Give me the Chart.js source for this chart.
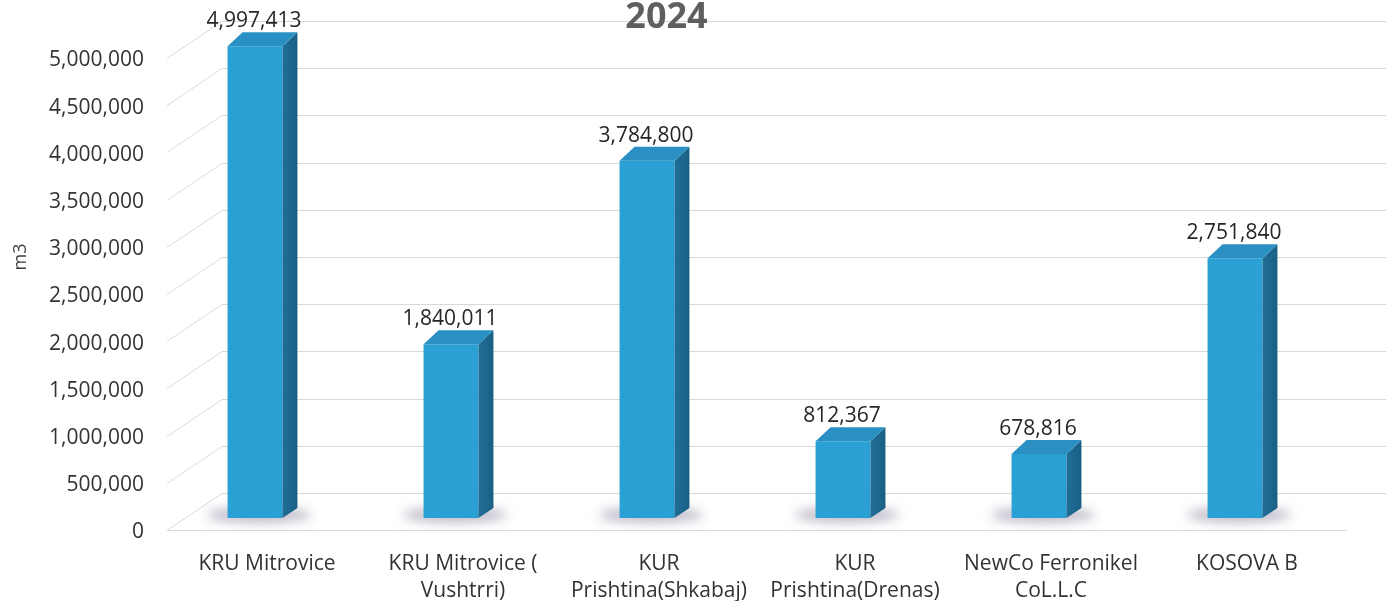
<!DOCTYPE html>
<html>
<head>
<meta charset="utf-8">
<script src="https://cdn.jsdelivr.net/npm/chart.js@4/dist/chart.umd.min.js"></script>
<style>
  html, body { margin: 0; padding: 0; background: #ffffff; }
  #wrap { width: 1386px; height: 601px; position: relative; }
</style>
</head>
<body>
<div id="wrap"><canvas id="c" width="1386" height="601"></canvas></div>
<script>
// ---- data ----
const categories = [
  'KRU Mitrovice',
  ['KRU Mitrovice (', 'Vushtrri)'],
  ['KUR', 'Prishtina(Shkabaj)'],
  ['KUR', 'Prishtina(Drenas)'],
  ['NewCo Ferronikel', 'CoL.L.C'],
  'KOSOVA B'
];
const values = [4997413, 1840011, 3784800, 812367, 678816, 2751840];
const yMin = 0;
const yMax = 5000000;
const yStep = 500000;
const chartTitle = '2024';
const yAxisTitle = 'm3';

const FONT = "'Open Sans', 'Noto Sans', sans-serif";
const fmt = v => Number(v).toLocaleString('en-US');

// pseudo-3D geometry (offsets relative to the library's scale pixels)
const G = { frontDx: 10, frontDy: 12, backDx: 55, backDy: -25, barDx: 15, barDy: -14, floorRight: 14 };

const plot3d = {
  id: 'plot3d',
  beforeDraw(chart) {
    const { ctx, chartArea: a, scales: { y } } = chart;
    ctx.save();
    ctx.strokeStyle = '#d9d9d9';
    ctx.lineWidth = 1;
    const x0 = a.left + G.frontDx;
    const x1 = x0 + G.backDx;
    y.ticks.forEach(t => {
      const py = Math.round(y.getPixelForValue(t.value)) + 0.5;
      ctx.beginPath();
      ctx.moveTo(x0, py + G.frontDy);
      ctx.lineTo(x1, py + G.backDy);
      ctx.lineTo(chart.width, py + G.backDy);
      ctx.stroke();
    });
    // floor front edge
    const p0 = Math.round(y.getPixelForValue(0)) + 0.5;
    const xr = a.right + G.floorRight;
    ctx.beginPath();
    ctx.moveTo(x0, p0 + G.frontDy);
    ctx.lineTo(xr, p0 + G.frontDy);
    ctx.stroke();
    // soft shadows under bars
    const meta = chart.getDatasetMeta(0);
    meta.data.forEach(bar => {
      const p = bar.getProps(['x', 'base', 'width'], true);
      ctx.save();
      ctx.filter = 'blur(6px)';
      ctx.fillStyle = 'rgba(115, 105, 135, 0.5)';
      ctx.beginPath();
      ctx.ellipse(p.x + 4, p.base - 3, p.width * 0.95, 7, 0, 0, Math.PI * 2);
      ctx.fill();
      ctx.restore();
    });
    ctx.restore();
  },
  afterDatasetsDraw(chart) {
    const { ctx } = chart;
    const meta = chart.getDatasetMeta(0);
    ctx.save();
    meta.data.forEach((bar, i) => {
      const p = bar.getProps(['x', 'y', 'base', 'width'], true);
      const l = p.x - p.width / 2, r = p.x + p.width / 2, t = p.y, b = p.base;
      // side face
      const sg = ctx.createLinearGradient(r, 0, r + G.barDx, 0);
      sg.addColorStop(0, '#1f6f98');
      sg.addColorStop(1, '#1a5f84');
      ctx.fillStyle = sg;
      ctx.beginPath();
      ctx.moveTo(r, t);
      ctx.lineTo(r + G.barDx, t + G.barDy);
      ctx.lineTo(r + G.barDx, b + G.barDy + 4);
      ctx.lineTo(r, b);
      ctx.closePath();
      ctx.fill();
      // top face
      ctx.fillStyle = '#2a8fc2';
      ctx.beginPath();
      ctx.moveTo(l, t);
      ctx.lineTo(l + G.barDx, t + G.barDy);
      ctx.lineTo(r + G.barDx, t + G.barDy);
      ctx.lineTo(r, t);
      ctx.closePath();
      ctx.fill();
      // value label
      ctx.fillStyle = '#262626';
      ctx.font = '21px ' + FONT;
      ctx.textAlign = 'center';
      ctx.textBaseline = 'middle';
      ctx.fillText(fmt(values[i]), p.x - 1, t - 25);
    });
    ctx.restore();
  },
  afterDraw(chart) {
    const { ctx } = chart;
    ctx.save();
    ctx.translate(21, 257);
    ctx.rotate(-Math.PI / 2);
    ctx.fillStyle = '#404040';
    ctx.font = '18px ' + FONT;
    ctx.textAlign = 'center';
    ctx.textBaseline = 'middle';
    ctx.fillText(yAxisTitle, 0, 0);
    ctx.restore();
  }
};

new Chart(document.getElementById('c'), {
  type: 'bar',
  data: {
    labels: categories,
    datasets: [{
      label: yAxisTitle,
      data: values,
      backgroundColor: '#2aa0d4',
      borderWidth: 0,
      barPercentage: 0.28,
      categoryPercentage: 1
    }]
  },
  options: {
    responsive: false,
    animation: false,
    devicePixelRatio: 1,
    layout: { padding: { left: 0, right: 53, top: 0, bottom: 0 } },
    plugins: {
      legend: { display: false },
      tooltip: { enabled: false },
      title: {
        display: true,
        text: chartTitle,
        color: '#5f5f5f',
        font: { family: FONT, size: 36, weight: 'bold', lineHeight: 1 },
        padding: { top: 0, bottom: 10 }
      }
    },
    scales: {
      x: {
        type: 'category',
        offset: true,
        grid: { display: false, drawTicks: false },
        border: { display: false },
        ticks: {
          color: '#333333',
          font: { family: FONT, size: 21, lineHeight: 1.29 },
          padding: 32,
          labelOffset: 12,
          maxRotation: 0,
          minRotation: 0,
          autoSkip: false
        },
        afterFit: s => { s.height = 83; }
      },
      y: {
        min: yMin,
        max: yMax,
        grid: { display: false, drawTicks: false },
        border: { display: false },
        ticks: {
          stepSize: yStep,
          color: '#333333',
          font: { family: FONT, size: 21 },
          padding: 13,
          labelOffset: 14.5,
          callback: v => fmt(v)
        },
        afterFit: s => { s.width = 157; }
      }
    }
  },
  plugins: [plot3d]
});
</script>
</body>
</html>
